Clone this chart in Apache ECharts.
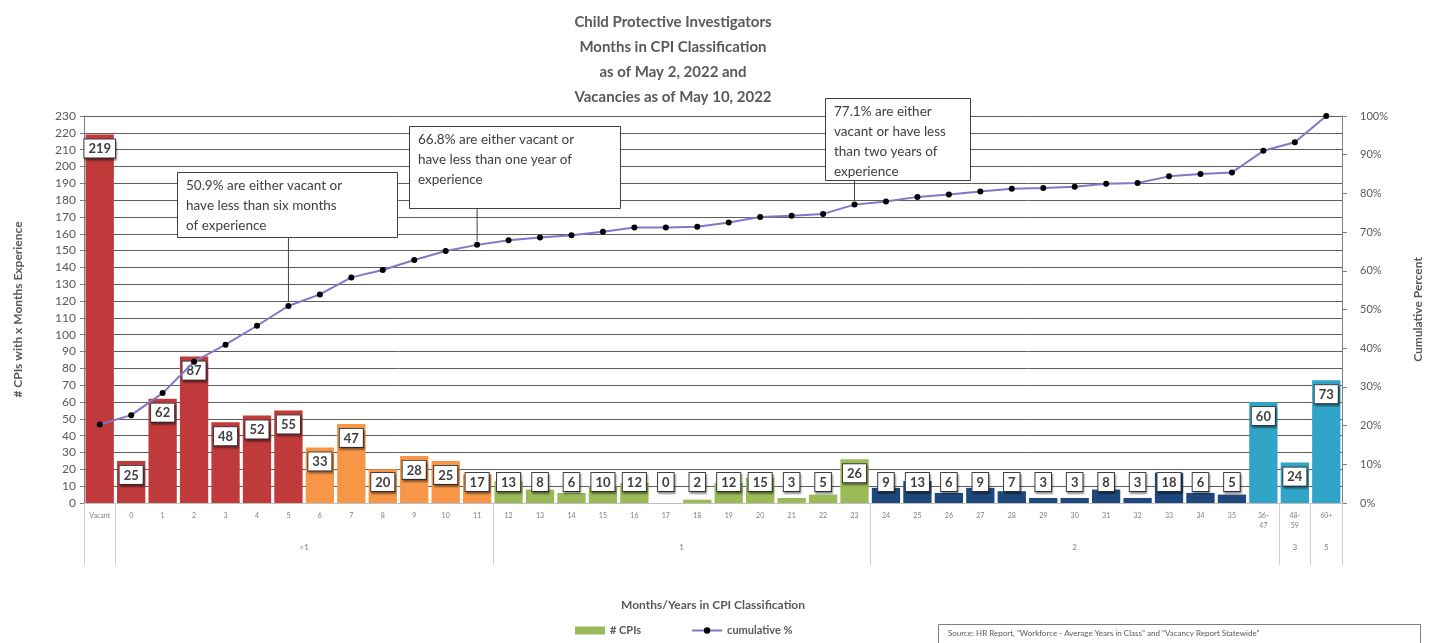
<!DOCTYPE html>
<html>
<head>
<meta charset="utf-8">
<script src="https://cdn.jsdelivr.net/npm/echarts@6/dist/echarts.min.js"></script>
<style>
  html, body { margin: 0; padding: 0; background: #fff; }
  #chart { width: 1434px; height: 643px; }
</style>
</head>
<body>
<div id="chart"></div>
<script>
// categories on the x axis (months / year bands)
var categories = ['Vacant', '0', '1', '2', '3', '4', '5', '6', '7', '8', '9', '10', '11',
  '12', '13', '14', '15', '16', '17', '18', '19', '20', '21', '22', '23',
  '24', '25', '26', '27', '28', '29', '30', '31', '32', '33', '34', '35',
  '36-\n47', '48-\n59', '60+'];

// # CPIs in each category
var cpiCounts = [219, 25, 62, 87, 48, 52, 55, 33, 47, 20, 28, 25, 17,
  13, 8, 6, 10, 12, 0, 2, 12, 15, 3, 5, 26,
  9, 13, 6, 9, 7, 3, 3, 8, 3, 18, 6, 5,
  60, 24, 73];

// cumulative percent
var cumulativePct = [20.3, 22.7, 28.4, 36.5, 40.9, 45.8, 50.9, 53.9, 58.3, 60.2, 62.8, 65.1, 66.7,
  67.9, 68.6, 69.2, 70.1, 71.2, 71.2, 71.4, 72.5, 73.9, 74.2, 74.7, 77.1,
  77.9, 79.1, 79.7, 80.5, 81.2, 81.4, 81.7, 82.5, 82.7, 84.4, 85.0, 85.4,
  91.0, 93.2, 100];

// year groups under the month labels: name + how many categories it covers
var groupNames = ['', '<1', '1', '2', '3', '5'];
var groupSpans = [1, 12, 12, 13, 1, 1];

// colour band for every category
var bandColors = ['#C0393B', '#F79646', '#9BBB59', '#1F497D', '#31A5C8'];
var bandOf = [0, 0, 0, 0, 0, 0, 0, 1, 1, 1, 1, 1, 1,
  2, 2, 2, 2, 2, 2, 2, 2, 2, 2, 2, 2,
  3, 3, 3, 3, 3, 3, 3, 3, 3, 3, 3, 3,
  4, 4, 4];

// callout notes: category index they point to and text
var notes = [
  {idx: 6, text: '50.9% are either vacant or\nhave less than six months\nof experience'},
  {idx: 12, text: '66.8% are either vacant or\nhave less than one year of\nexperience'},
  {idx: 24, text: '77.1% are either\nvacant or have less\nthan two years of\nexperience'}
];

var FONT = 'Lato, "Open Sans", sans-serif';
var GRAY = '#595959';

var chart = echarts.init(document.getElementById('chart'));

// group separators sit on the boundaries between groups
var boundaries = {};
var acc = 0;
boundaries[0] = true;
for (var g = 0; g < groupSpans.length; g++) {
  acc += groupSpans[g];
  boundaries[acc] = true;
}

var barData = cpiCounts.map(function (v, i) {
  var small = v <= 20;
  return {
    value: v,
    itemStyle: {color: bandColors[bandOf[i]]},
    label: small ? {position: 'insideBottom', distance: 12} : {position: 'insideTop', distance: 5}
  };
});

chart.setOption({
  animation: false,
  textStyle: {fontFamily: FONT},
  title: {
    text: 'Child Protective Investigators\nMonths in CPI Classification\nas of May 2, 2022 and\nVacancies as of May 10, 2022',
    left: 668,
    top: 5,
    textAlign: 'center',
    textStyle: {fontFamily: FONT, fontSize: 15, fontWeight: 'bold', color: GRAY, lineHeight: 25}
  },
  legend: {
    bottom: 2,
    left: 570,
    itemGap: 50,
    itemWidth: 30,
    itemHeight: 8,
    textStyle: {fontFamily: FONT, fontSize: 11, color: GRAY, fontWeight: 'bold'},
    data: [
      {name: '# CPIs', icon: 'rect', itemStyle: {color: '#9BBB59'}},
      {name: 'cumulative %'}
    ]
  },
  grid: {left: 84, right: 92, top: 116, bottom: 140},
  xAxis: [{
    type: 'category',
    data: categories,
    axisLine: {lineStyle: {color: '#bfbfbf'}},
    axisTick: {show: false},
    axisLabel: {interval: 0, fontSize: 7, color: '#7f7f7f', margin: 8, lineHeight: 10},
    name: 'Months/Years in CPI Classification',
    nameLocation: 'middle',
    nameGap: 96,
    nameTextStyle: {fontFamily: FONT, fontSize: 12, fontWeight: 'bold', color: GRAY}
  }, {
    type: 'category',
    data: categories,
    position: 'bottom',
    axisLine: {show: false},
    axisTick: {
      show: true,
      length: 62,
      interval: function (i) { return !!boundaries[i]; },
      lineStyle: {color: '#d0d0d0'}
    },
    axisLabel: {show: false}
  }],
  yAxis: [{
    type: 'value',
    min: 0,
    max: 230,
    interval: 10,
    axisLine: {show: true, lineStyle: {color: '#7f7f7f'}},
    axisTick: {show: true, length: 4, lineStyle: {color: '#7f7f7f'}},
    axisLabel: {fontSize: 12, color: GRAY, margin: 8},
    splitLine: {lineStyle: {color: '#5e5e5e', width: 1}},
    name: '# CPIs with x Months Experience',
    nameLocation: 'middle',
    nameRotate: 90,
    nameGap: 60,
    nameTextStyle: {fontFamily: FONT, fontSize: 12, fontWeight: 'bold', color: GRAY}
  }, {
    type: 'value',
    min: 0,
    max: 100,
    interval: 10,
    axisLine: {show: true, lineStyle: {color: '#7f7f7f'}},
    axisTick: {show: true, length: 5, lineStyle: {color: '#7f7f7f'}},
    axisLabel: {fontSize: 11, color: GRAY, margin: 18, formatter: '{value}%'},
    splitLine: {show: false},
    name: 'Cumulative Percent',
    nameLocation: 'middle',
    nameRotate: 90,
    nameGap: 70,
    nameTextStyle: {fontFamily: FONT, fontSize: 12, fontWeight: 'bold', color: GRAY}
  }],
  series: [{
    name: '# CPIs',
    type: 'bar',
    data: barData,
    barCategoryGap: '10%',
    itemStyle: {color: '#9BBB59'},
    label: {
      show: true,
      fontFamily: FONT,
      fontSize: 13,
      fontWeight: 'bold',
      color: '#404040',
      backgroundColor: '#fff',
      borderColor: '#404040',
      borderWidth: 1,
      padding: [3, 4, 2, 4],
      shadowColor: 'rgba(0,0,0,0.35)',
      shadowOffsetX: 1,
      shadowOffsetY: 2,
      shadowBlur: 2
    },
    z: 2
  }, {
    name: 'cumulative %',
    type: 'line',
    yAxisIndex: 1,
    data: cumulativePct,
    color: '#000',
    lineStyle: {color: '#7F78C8', width: 2},
    symbol: 'circle',
    symbolSize: 6,
    itemStyle: {color: '#000'},
    z: 4
  }]
});

// group labels centred under each span, callout boxes, source note
var graphics = [];
var start = 0;
for (var k = 0; k < groupSpans.length; k++) {
  var a = chart.convertToPixel({xAxisIndex: 0}, start);
  var b = chart.convertToPixel({xAxisIndex: 0}, start + groupSpans[k] - 1);
  graphics.push({
    type: 'text',
    x: (a + b) / 2,
    y: 543,
    style: {text: groupNames[k], fill: '#7f7f7f', fontSize: 8, fontFamily: FONT, align: 'center'}
  });
  start += groupSpans[k];
}

var boxes = [
  {x: 177, y: 172, w: 220, h: 65},
  {x: 409, y: 126, w: 211, h: 82},
  {x: 825, y: 98, w: 145, h: 82}
];
notes.forEach(function (n, i) {
  var p = chart.convertToPixel({seriesIndex: 1}, [n.idx, cumulativePct[n.idx]]);
  var bx = boxes[i];
  graphics.push({
    type: 'line',
    shape: {x1: p[0], y1: bx.y + bx.h, x2: p[0], y2: p[1] - 4},
    style: {stroke: '#404040', lineWidth: 1},
    z: 10
  });
  graphics.push({
    type: 'rect',
    shape: {x: bx.x + 0.5, y: bx.y + 0.5, width: bx.w, height: bx.h},
    style: {fill: '#fff', stroke: '#404040', lineWidth: 1},
    z: 10
  });
  graphics.push({
    type: 'text',
    x: bx.x + 9,
    y: bx.y + 4,
    style: {text: n.text, fill: '#404040', fontSize: 13.5, fontFamily: FONT, lineHeight: 20},
    z: 11
  });
});

graphics.push({
  type: 'rect',
  shape: {x: 938.5, y: 624.5, width: 482, height: 24},
  style: {fill: '#fff', stroke: '#7f7f7f', lineWidth: 1}
});
graphics.push({
  type: 'text',
  x: 948,
  y: 629,
  style: {text: 'Source: HR Report, "Workforce - Average Years in Class" and "Vacancy Report Statewide"', fill: GRAY, fontSize: 8, fontFamily: FONT}
});

chart.setOption({graphic: graphics});
</script>
</body>
</html>
